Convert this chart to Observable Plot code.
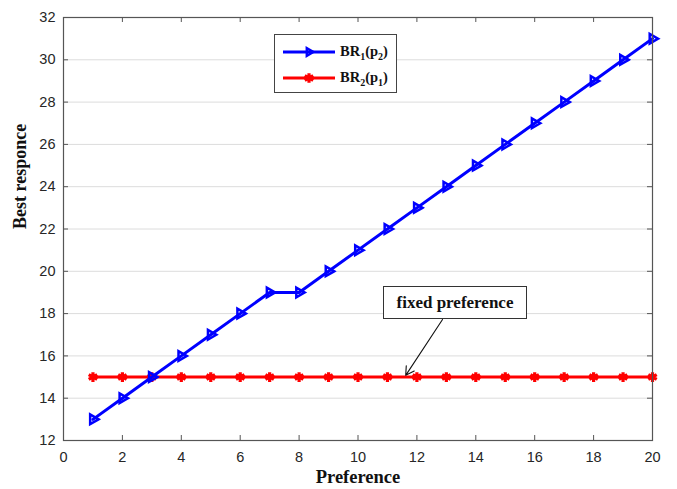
<!DOCTYPE html>
<html>
<head>
<meta charset="utf-8">
<script src="https://cdn.jsdelivr.net/npm/d3@7"></script>
<script src="https://cdn.jsdelivr.net/npm/@observablehq/plot@0.6"></script>
<style>
  body { margin: 0; background: #fff; }
  #wrap { position: relative; width: 677px; height: 489px; }
  .legend { position: absolute; left: 274px; top: 34px; width: 121px; height: 57px;
    border: 1px solid #444; background: #fff; font: bold 14.5px "Liberation Serif", "Times New Roman", serif; color: #111; }
  .legend .row { position: absolute; left: 8px; display: flex; align-items: center; }
  .legend .row span { margin-left: 5px; }
  .legend sub { font-size: 10px; }
  .note { position: absolute; left: 383px; top: 286px; width: 142px; height: 31px;
    border: 1px solid #333; background: #fff; font: bold 17px "Liberation Serif", "Times New Roman", serif;
    display: flex; align-items: center; justify-content: center; color: #111; }
</style>
</head>
<body>
<div id="wrap"></div>
<script>
const preference = [1,2,3,4,5,6,7,8,9,10,11,12,13,14,15,16,17,18,19,20];
const br1 = [13,14,15,16,17,18,19,19,20,21,22,23,24,25,26,27,28,29,30,31];
const br2 = [15,15,15,15,15,15,15,15,15,15,15,15,15,15,15,15,15,15,15,15];
const xTicks = [0,2,4,6,8,10,12,14,16,18,20];
const yTicks = [12,14,16,18,20,22,24,26,28,30,32];
const xLabel = "Preference";
const yLabel = "Best responce";
const noteText = "fixed preference";
const arrowFrom = [12.87, 17.72];
const arrowTo = [11.62, 15.08];

const s1 = preference.map((x, i) => ({x, y: br1[i]}));
const s2 = preference.map((x, i) => ({x, y: br2[i]}));

const W = 677, H = 489;
const mL = 63, mR = 25, mT = 17, mB = 49;
const iW = W - mL - mR, iH = H - mT - mB;
const axisColor = "#555";

const chart = Plot.plot({
  width: W, height: H,
  marginLeft: mL, marginRight: mR, marginTop: mT, marginBottom: mB,
  style: {fontFamily: "'Liberation Sans', Arial, sans-serif", fontSize: "14.5px", color: "#262626", background: "#fff"},
  x: {domain: [0, 20]},
  y: {domain: [12, 32]},
  marks: [
    Plot.gridY(yTicks, {stroke: "#dcdcdc", strokeOpacity: 1}),
    Plot.tickX(xTicks, {x: d => d, insetTop: iH - 5, stroke: axisColor}),
    Plot.tickX(xTicks, {x: d => d, insetBottom: iH - 5, stroke: axisColor}),
    Plot.tickY(yTicks, {y: d => d, insetLeft: iW - 5, stroke: axisColor}),
    Plot.tickY(yTicks, {y: d => d, insetRight: iW - 5, stroke: axisColor}),
    Plot.axisX(xTicks, {tickSize: 0, tickPadding: 11, label: null}),
    Plot.axisY(yTicks, {tickSize: 0, tickPadding: 8, label: null}),
    Plot.line(s2, {x: "x", y: "y", stroke: "#ff0000", strokeWidth: 3}),
    Plot.dot(s2, {x: "x", y: "y", symbol: "asterisk", r: 4.6, stroke: "#ff0000", strokeWidth: 3.2}),
    Plot.line(s1, {x: "x", y: "y", stroke: "#0000ff", strokeWidth: 3}),
    Plot.dot(s1, {x: "x", y: "y", symbol: "triangle", rotate: 90, r: 3.6, stroke: "#0000ff", strokeWidth: 2.5, fill: "none"}),
    Plot.arrow([{x1: arrowFrom[0], y1: arrowFrom[1], x2: arrowTo[0], y2: arrowTo[1]}],
      {x1: "x1", y1: "y1", x2: "x2", y2: "y2", stroke: "#111", strokeWidth: 1.1, headLength: 13}),
    Plot.frame({stroke: axisColor, strokeWidth: 1.2}),
    Plot.text([xLabel], {text: d => d, frameAnchor: "bottom", dy: 42, fontFamily: "'Liberation Serif', 'Times New Roman', serif", fontWeight: "bold", fontSize: 18.5, fill: "#111"}),
    Plot.text([yLabel], {text: d => d, frameAnchor: "left", rotate: -90, dx: -43, fontFamily: "'Liberation Serif', 'Times New Roman', serif", fontWeight: "bold", fontSize: 18, fill: "#111"})
  ]
});

const wrap = document.getElementById("wrap");
wrap.appendChild(chart);

// legend
function sample(color, symbolName, r, sw, rotate) {
  const sym = symbolName === "triangle" ? d3.symbolTriangle2 : d3.symbolAsterisk;
  const path = d3.symbol(sym, Math.PI * r * r)();
  return `<svg width="52" height="14" style="overflow:visible">
    <line x1="0" x2="52" y1="7" y2="7" stroke="${color}" stroke-width="3"/>
    <path d="${path}" transform="translate(26,7) rotate(${rotate})" stroke="${color}" stroke-width="${sw}" fill="none"/>
  </svg>`;
}
const legend = document.createElement("div");
legend.className = "legend";
legend.innerHTML =
  `<div class="row" style="top:8px">${sample("#0000ff", "triangle", 3.6, 2.5, 90)}<span>BR<sub>1</sub>(p<sub>2</sub>)</span></div>` +
  `<div class="row" style="top:34px">${sample("#ff0000", "asterisk", 4.6, 3.2, 0)}<span>BR<sub>2</sub>(p<sub>1</sub>)</span></div>`;
wrap.appendChild(legend);

const note = document.createElement("div");
note.className = "note";
note.textContent = noteText;
wrap.appendChild(note);
</script>
</body>
</html>
